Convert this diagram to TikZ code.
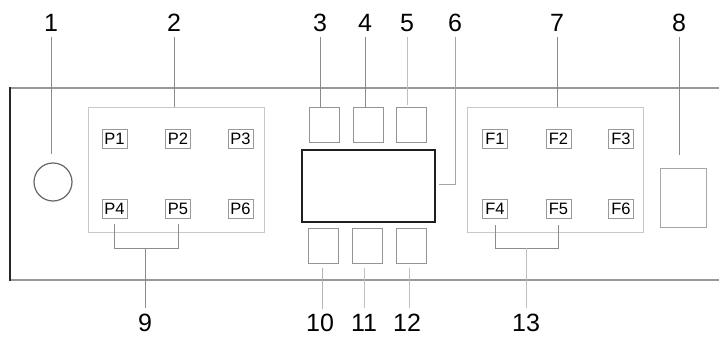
\documentclass[tikz,border=0pt]{standalone}
\usepackage{fontspec}
\setmainfont{Liberation Sans}
\usetikzlibrary{calc}
\begin{document}
\begin{tikzpicture}[x=1pt,y=-1pt,
  lbl/.style={font=\fontsize{25}{25}\selectfont, inner sep=0pt, text height=18pt, text depth=0pt},
  lead/.style={draw=black!45, line width=0.6pt},
  panelbox/.style={draw=black!22, line width=0.9pt, inner sep=0pt, minimum width=176pt, minimum height=125pt},
  keybox/.style={draw=black!40, line width=0.8pt, inner sep=0pt, minimum width=25pt, minimum height=19pt, font=\fontsize{16.5}{16.5}\selectfont},
  btn/.style={draw=black!42, line width=0.9pt, inner sep=0pt, minimum width=30pt, minimum height=35pt},
  edge/.style={draw=black!40, line width=2pt}
]
\useasboundingbox (0,0) rectangle (719,337);
% housing
\draw[edge] (10,88) -- (719,88);
\draw[edge] (10,279.5) -- (719,279.5);
\draw[draw=black!85, line width=1.3pt] (10,87) -- (10,280.5);

% components
\node[draw=black!60, line width=1.2pt, circle, minimum size=38pt, inner sep=0pt] (knob) at (53,182) {};
\node[panelbox] (pp) at (176,169.5) {};
\node[panelbox] (fp) at (555,170) {};
\node[keybox] (p1) at (114.5,138.5) {P1};
\node[keybox] (p2) at (178,138.5) {P2};
\node[keybox] (p3) at (240.5,138.5) {P3};
\node[keybox] (p4) at (114.5,208.5) {P4};
\node[keybox] (p5) at (178,208.5) {P5};
\node[keybox] (p6) at (240.5,208.5) {P6};
\node[keybox] (f1) at (495,138.5) {F1};
\node[keybox] (f2) at (558.5,138.5) {F2};
\node[keybox] (f3) at (621,138.5) {F3};
\node[keybox] (f4) at (495,208.5) {F4};
\node[keybox] (f5) at (558.5,208.5) {F5};
\node[keybox] (f6) at (621,208.5) {F6};
\node[btn] (b3) at (324,124.5) {};
\node[btn] (b4) at (368,124.5) {};
\node[btn] (b5) at (411.5,124.5) {};
\node[btn] (b10) at (323,245.5) {};
\node[btn] (b11) at (367,245.5) {};
\node[btn] (b12) at (411.5,245.5) {};
\node[draw=black!88, line width=1.2pt, inner sep=0pt, minimum width=133pt, minimum height=72pt] (disp) at (368.5,186) {};
\node[draw=black!35, line width=0.9pt, inner sep=0pt, minimum width=46pt, minimum height=59pt] (b8) at (683,197.5) {};

% labels
\node[lbl] (l1) at (51,22.5) {1};
\node[lbl] (l2) at (174,22.5) {2};
\node[lbl] (l3) at (320,22.5) {3};
\node[lbl] (l4) at (365,22.5) {4};
\node[lbl] (l5) at (407,22.5) {5};
\node[lbl] (l6) at (455,22.5) {6};
\node[lbl] (l7) at (557,22.5) {7};
\node[lbl] (l8) at (679,22.5) {8};
\node[lbl] (l9) at (145,322) {9};
\node[lbl] (l10) at (320,322) {10};
\node[lbl] (l11) at (364,322) {11};
\node[lbl] (l12) at (407,322) {12};
\node[lbl] (l13) at (526,322) {13};

% leaders, top
\draw[lead, shorten <=5pt, shorten >=8pt] (l1.south) -- (l1.south |- knob.north);
\draw[lead, shorten <=5pt] (l2.south) -- (l2.south |- pp.north);
\draw[lead, shorten <=5pt] (l3.south) -- (l3.south |- b3.north);
\draw[lead, shorten <=5pt] (l4.south) -- (l4.south |- b4.north);
\draw[lead, draw=black!25, shorten <=5pt, shorten >=2pt] (l5.south) -- (l5.south |- b5.north);
\coordinate (c6) at (439,184);
\draw[lead, draw=black!35, shorten <=5pt] (l6.south) |- (c6);
\draw[lead, shorten <=5pt] (l7.south) -- (l7.south |- fp.north);
\draw[lead, shorten <=5pt, shorten >=13pt] (l8.south) -- (l8.south |- b8.north);

% leaders, bottom
\coordinate (k9) at (145,248);
\draw[lead] ($(p4.south)+(0,6)$) |- (p5.south |- k9) -- ($(p5.south)+(0,6)$);
\draw[lead, shorten >=5pt] (k9) -- (l9.north);
\coordinate (k13) at (526,248);
\draw[lead] ($(f4.south)+(0,7)$) |- (f5.south |- k13) -- ($(f5.south)+(0,7)$);
\draw[lead, draw=black!25, shorten >=5pt] (k13) -- (l13.north);
\draw[lead, draw=black!30, shorten <=5pt] (b10.south -| l10.north) ++(2,0) -- ++(0,46);
\draw[lead, draw=black!25, shorten <=5pt] (b11.south -| l11.north) -- ++(0,45);
\draw[lead, draw=black!25, shorten <=5pt] (b12.south -| l12.north) ++(2,0) -- ++(0,45);
\end{tikzpicture}
\end{document}
